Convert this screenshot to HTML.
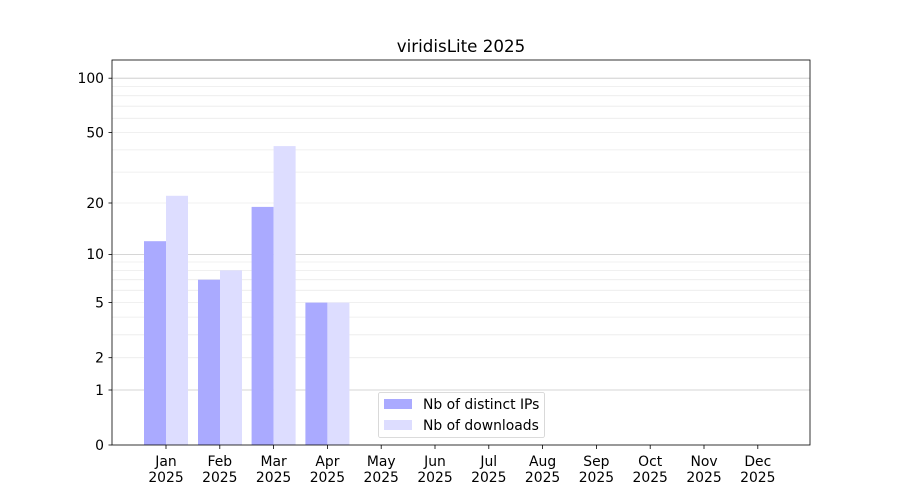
<!DOCTYPE html>
<html><head><meta charset="utf-8"><style>
html,body{margin:0;padding:0;background:#fff;}
svg{display:block;font-family:"DejaVu Sans","Liberation Sans",sans-serif;}
</style></head><body>
<svg width="900" height="500" viewBox="0 0 900 500" xmlns="http://www.w3.org/2000/svg">
<rect width="900" height="500" fill="#fff"/>
<g stroke="#ebebeb" stroke-width="0.8">
<line x1="112" x2="810" y1="357.7" y2="357.7"/>
<line x1="112" x2="810" y1="334.8" y2="334.8"/>
<line x1="112" x2="810" y1="317.1" y2="317.1"/>
<line x1="112" x2="810" y1="302.6" y2="302.6"/>
<line x1="112" x2="810" y1="290.3" y2="290.3"/>
<line x1="112" x2="810" y1="279.7" y2="279.7"/>
<line x1="112" x2="810" y1="270.4" y2="270.4"/>
<line x1="112" x2="810" y1="262" y2="262"/>
<line x1="112" x2="810" y1="203" y2="203"/>
<line x1="112" x2="810" y1="172.1" y2="172.1"/>
<line x1="112" x2="810" y1="149.9" y2="149.9"/>
<line x1="112" x2="810" y1="132.5" y2="132.5"/>
<line x1="112" x2="810" y1="118.3" y2="118.3"/>
<line x1="112" x2="810" y1="106.2" y2="106.2"/>
<line x1="112" x2="810" y1="95.7" y2="95.7"/>
<line x1="112" x2="810" y1="86.5" y2="86.5"/>
</g>
<g stroke="#c8c8c8" stroke-width="0.8">
<line x1="112" x2="810" y1="390" y2="390"/>
<line x1="112" x2="810" y1="254.4" y2="254.4"/>
<line x1="112" x2="810" y1="78.2" y2="78.2"/>
</g>
<g fill="#aaaaff">
<rect x="144" y="241.2" width="22" height="203.8"/>
<rect x="198" y="279.7" width="22" height="165.3"/>
<rect x="251.6" y="206.9" width="22" height="238.1"/>
<rect x="305.4" y="302.6" width="22" height="142.4"/>
</g>
<g fill="#ddddff">
<rect x="166" y="195.8" width="22" height="249.2"/>
<rect x="220" y="270.4" width="22" height="174.6"/>
<rect x="273.6" y="146.1" width="22" height="298.9"/>
<rect x="327.4" y="302.6" width="22" height="142.4"/>
</g>
<rect x="112" y="60" width="698" height="385" fill="none" stroke="#000" stroke-width="0.8"/>
<g stroke="#000" stroke-width="0.8">
<line x1="108.5" x2="112" y1="445" y2="445"/>
<line x1="108.5" x2="112" y1="390" y2="390"/>
<line x1="108.5" x2="112" y1="357.7" y2="357.7"/>
<line x1="108.5" x2="112" y1="302.6" y2="302.6"/>
<line x1="108.5" x2="112" y1="254.4" y2="254.4"/>
<line x1="108.5" x2="112" y1="203" y2="203"/>
<line x1="108.5" x2="112" y1="132.5" y2="132.5"/>
<line x1="108.5" x2="112" y1="78.2" y2="78.2"/>
</g>
<g font-size="13.9" text-anchor="end" fill="#000">
<text x="104" y="450">0</text>
<text x="104" y="395">1</text>
<text x="104" y="362.5">2</text>
<text x="104" y="307.5">5</text>
<text x="104" y="259">10</text>
<text x="104" y="208">20</text>
<text x="104" y="137.5">50</text>
<text x="104" y="83">100</text>
</g>
<g font-size="13.9" text-anchor="middle" fill="#000" stroke="none">
<g><line x1="166" x2="166" y1="445" y2="449" stroke="#000" stroke-width="0.8"/><text x="166" y="466">Jan</text><text x="166" y="482">2025</text></g>
<g><line x1="219.8" x2="219.8" y1="445" y2="449" stroke="#000" stroke-width="0.8"/><text x="219.8" y="466">Feb</text><text x="219.8" y="482">2025</text></g>
<g><line x1="273.6" x2="273.6" y1="445" y2="449" stroke="#000" stroke-width="0.8"/><text x="273.6" y="466">Mar</text><text x="273.6" y="482">2025</text></g>
<g><line x1="327.4" x2="327.4" y1="445" y2="449" stroke="#000" stroke-width="0.8"/><text x="327.4" y="466">Apr</text><text x="327.4" y="482">2025</text></g>
<g><line x1="381.2" x2="381.2" y1="445" y2="449" stroke="#000" stroke-width="0.8"/><text x="381.2" y="466">May</text><text x="381.2" y="482">2025</text></g>
<g><line x1="435" x2="435" y1="445" y2="449" stroke="#000" stroke-width="0.8"/><text x="435" y="466">Jun</text><text x="435" y="482">2025</text></g>
<g><line x1="488.8" x2="488.8" y1="445" y2="449" stroke="#000" stroke-width="0.8"/><text x="488.8" y="466">Jul</text><text x="488.8" y="482">2025</text></g>
<g><line x1="542.6" x2="542.6" y1="445" y2="449" stroke="#000" stroke-width="0.8"/><text x="542.6" y="466">Aug</text><text x="542.6" y="482">2025</text></g>
<g><line x1="596.4" x2="596.4" y1="445" y2="449" stroke="#000" stroke-width="0.8"/><text x="596.4" y="466">Sep</text><text x="596.4" y="482">2025</text></g>
<g><line x1="650.2" x2="650.2" y1="445" y2="449" stroke="#000" stroke-width="0.8"/><text x="650.2" y="466">Oct</text><text x="650.2" y="482">2025</text></g>
<g><line x1="704" x2="704" y1="445" y2="449" stroke="#000" stroke-width="0.8"/><text x="704" y="466">Nov</text><text x="704" y="482">2025</text></g>
<g><line x1="757.8" x2="757.8" y1="445" y2="449" stroke="#000" stroke-width="0.8"/><text x="757.8" y="466">Dec</text><text x="757.8" y="482">2025</text></g>
</g>
<text x="461" y="52" font-size="16.7" text-anchor="middle" fill="#000">viridisLite 2025</text>
<rect x="378.5" y="392.5" width="166" height="45" rx="2" fill="#fff" fill-opacity="0.8" stroke="#d0d0d0" stroke-width="0.8"/>
<rect x="384" y="399" width="28" height="10" fill="#aaaaff"/>
<rect x="384" y="420" width="28" height="10" fill="#ddddff"/>
<text x="423" y="409" font-size="13.9" fill="#000">Nb of distinct IPs</text>
<text x="423" y="430" font-size="13.9" fill="#000">Nb of downloads</text>
</svg>
</body></html>
